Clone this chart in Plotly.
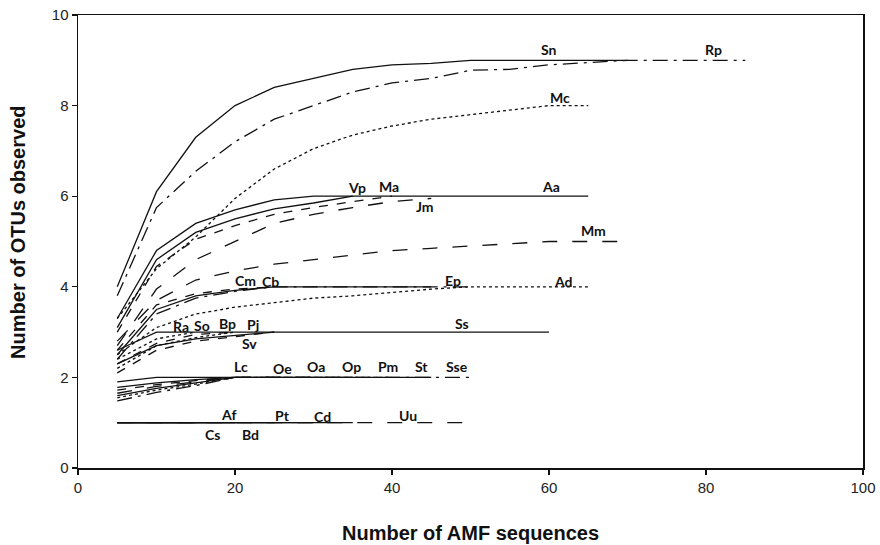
import plotly.graph_objects as go

# Rarefaction grid (number of AMF sequences)
SEQ = [5, 10, 15, 20, 25, 30, 35, 40, 45, 50, 55, 60, 65, 70, 75, 80, 85]

# OTUs observed per host species
Sn = [4.0, 6.1, 7.3, 8.0, 8.4, 8.6, 8.8, 8.9, 8.93, 9.0, 9.0, 9.0, 9.0, 9.0]
Rp = [3.8, 5.75, 6.55, 7.2, 7.7, 8.0, 8.3, 8.5, 8.6, 8.78, 8.8, 8.9, 8.95, 9.0, 9.0, 9.0, 9.0]
Mc = [3.3, 4.4, 5.1, 5.95, 6.6, 7.05, 7.35, 7.55, 7.7, 7.8, 7.9, 8.0, 8.0]
Aa = [3.3, 4.8, 5.4, 5.7, 5.92, 6.0, 6.0, 6.0, 6.0, 6.0, 6.0, 6.0, 6.0]
Vp = [3.1, 4.6, 5.2, 5.5, 5.72, 5.85, 6.0]
Ma = [3.0, 4.45, 5.05, 5.35, 5.6, 5.75, 5.88, 6.0]
Jm = [2.7, 3.95, 4.6, 5.0, 5.4, 5.6, 5.75, 5.88, 5.95]
Mm = [2.8, 3.7, 4.15, 4.35, 4.5, 4.6, 4.7, 4.8, 4.85, 4.9, 4.95, 5.0, 5.0, 5.0]
Cm = [2.6, 3.6, 3.85, 3.95, 4.0]
Cb = [2.5, 3.5, 3.8, 3.92, 4.0, 4.0, 4.0, 4.0, 4.0]
Ep = [2.4, 3.4, 3.75, 3.9, 4.0, 4.0, 4.0, 4.0, 4.0, 4.0]
Ad = [2.5, 3.1, 3.4, 3.55, 3.65, 3.75, 3.8, 3.87, 3.95, 4.0, 4.0, 4.0, 4.0]
Ss = [2.6, 3.0, 3.0, 3.0, 3.0, 3.0, 3.0, 3.0, 3.0, 3.0, 3.0, 3.0]
Ra = [2.4, 2.85, 3.0]
So = [2.3, 2.75, 2.95, 3.0]
Bp = [2.2, 2.7, 2.88, 3.0]
Pj = [2.3, 2.7, 2.85, 2.93, 3.0]
Sv = [2.1, 2.6, 2.8, 2.9, 3.0]
Lc = [1.78, 1.88, 1.95, 2.0]
Oe = [1.72, 1.84, 1.93, 2.0, 2.0]
Oa = [1.65, 1.8, 1.9, 2.0, 2.0, 2.0]
Op = [1.6, 1.76, 1.88, 2.0, 2.0, 2.0, 2.0]
Pm = [1.55, 1.72, 1.85, 2.0, 2.0, 2.0, 2.0, 2.0]
St = [1.9, 2.0, 2.0, 2.0, 2.0, 2.0, 2.0, 2.0, 2.0]
Sse = [1.48, 1.67, 1.82, 2.0, 2.0, 2.0, 2.0, 2.0, 2.0, 2.0]
Cs = [1.0, 1.0, 1.0]
Af = [1.0, 1.0, 1.0, 1.0]
Bd = [1.0, 1.0, 1.0, 1.0, 1.0]
Pt = [1.0, 1.0, 1.0, 1.0, 1.0, 1.0]
Cd = [1.0, 1.0, 1.0, 1.0, 1.0, 1.0, 1.0]
Uu = [1.0, 1.0, 1.0, 1.0, 1.0, 1.0, 1.0, 1.0, 1.0, 1.0]

# Label names and their positions (x, y in data units)
LABELS = ["Sn", "Rp", "Mc", "Vp", "Ma", "Jm", "Aa", "Mm", "Ep", "Ad", "Cm", "Cb",
          "Ra", "So", "Bp", "Pj", "Sv", "Ss", "Lc", "Oe", "Oa", "Op", "Pm", "St",
          "Sse", "Af", "Pt", "Cd", "Uu", "Cs", "Bd"]
LABEL_X = [60, 81, 61.4, 35.5, 39.6, 44.2, 60.2, 65.7, 47.8, 61.8, 21.3, 24.5,
           13.1, 15.8, 19.1, 22.3, 21.9, 48.9, 20.8, 26.0, 30.3, 34.9, 39.5, 43.8,
           48.3, 19.2, 26.1, 31.1, 42.0, 17.1, 22.0]
LABEL_Y = [9.23, 9.23, 8.17, 6.2, 6.22, 5.77, 6.22, 5.25, 4.15, 4.11, 4.13, 4.11,
           3.13, 3.15, 3.2, 3.16, 2.74, 3.2, 2.23, 2.2, 2.23, 2.23, 2.23, 2.23,
           2.25, 1.19, 1.15, 1.13, 1.15, 0.73, 0.75]

series = [
    ("Sn", Sn, "solid"), ("Rp", Rp, "longdashdot"), ("Mc", Mc, "dot"),
    ("Aa", Aa, "solid"), ("Vp", Vp, "solid"), ("Ma", Ma, "dash"), ("Jm", Jm, "longdash"),
    ("Mm", Mm, "longdash"), ("Cm", Cm, "dash"), ("Cb", Cb, "solid"),
    ("Ep", Ep, "longdashdot"), ("Ad", Ad, "dot"),
    ("Ss", Ss, "solid"), ("Ra", Ra, "dot"), ("So", So, "dash"), ("Bp", Bp, "dot"),
    ("Pj", Pj, "solid"), ("Sv", Sv, "dash"),
    ("Lc", Lc, "solid"), ("Oe", Oe, "dash"), ("Oa", Oa, "longdash"), ("Op", Op, "solid"),
    ("Pm", Pm, "dot"), ("St", St, "solid"), ("Sse", Sse, "longdashdot"),
    ("Cs", Cs, "solid"), ("Af", Af, "solid"), ("Bd", Bd, "solid"), ("Pt", Pt, "solid"),
    ("Cd", Cd, "solid"), ("Uu", Uu, "longdash"),
]

fig = go.Figure()
for name, ys, dash in series:
    fig.add_trace(go.Scatter(
        x=SEQ[:len(ys)], y=ys, mode="lines", name=name,
        line=dict(color="#111111", width=1.3, dash=dash),
        showlegend=False, hoverinfo="skip",
    ))

for lab, lx, ly in zip(LABELS, LABEL_X, LABEL_Y):
    fig.add_annotation(x=lx, y=ly, text=lab, showarrow=False,
                       font=dict(family="Lato", size=14, color="#111111", weight="bold"))

title_font = dict(family="Liberation Sans", size=20, color="#111111", weight="bold")
fig.add_annotation(text="Number of AMF sequences", xref="paper", yref="paper",
                   x=0.5, y=0, yshift=-65, xanchor="center", yanchor="middle",
                   showarrow=False, font=title_font)
fig.add_annotation(text="Number of OTUs observed", xref="paper", yref="paper",
                   x=0, y=0.519, xshift=-60, xanchor="center", yanchor="middle",
                   textangle=-90, showarrow=False, font=title_font)

axis_common = dict(
    showline=True, linecolor="#111111", linewidth=1.5, mirror=True,
    ticks="outside", ticklen=5, tickcolor="#111111", tickwidth=1.3,
    showgrid=False, zeroline=False, automargin=False,
    tickfont=dict(family="Liberation Sans", size=15, color="#222222"),
)

fig.update_layout(
    width=880, height=545,
    margin=dict(l=78, r=17, t=15, b=77),
    paper_bgcolor="white", plot_bgcolor="white",
    xaxis=dict(range=[0, 100], tickvals=[0, 20, 40, 60, 80, 100], **axis_common),
    yaxis=dict(range=[0, 10], tickvals=[0, 2, 4, 6, 8, 10], **axis_common),
)

# remove the browser's default body margin so the figure fills the window exactly
fig.write_html("out.html",
               config={"displayModeBar": False, "staticPlot": True},
               post_script="document.body.style.margin='0';document.body.style.overflow='hidden';")
